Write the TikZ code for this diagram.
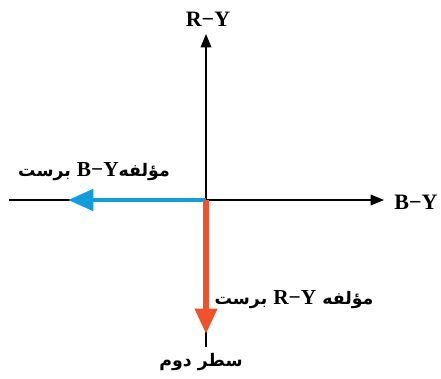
\documentclass[tikz,border=0pt]{standalone}
\usepackage{fontspec}
\setmainfont{Liberation Serif}
\newfontfamily\arabicfont[Script=Arabic]{DejaVu Sans}
\newfontfamily\latinfont{Liberation Serif}
\TeXXeTstate=1
\usetikzlibrary{arrows.meta}
\newcommand{\lat}[1]{{\latinfont\fontsize{16}{18}\selectfont\bfseries #1}}
\begin{document}
\begin{tikzpicture}[x=0.75pt, y=-0.75pt,
        axis/.style={draw=black, line width=1pt},
        axtip/.style={-{Triangle[length=10pt, width=8pt]}},
        comp/.style={-{Triangle[length=19pt, width=16pt]}},
        alab/.style={font=\fontsize{16.5}{18}\selectfont\bfseries, inner sep=0pt},
        flab/.style={font=\fontsize{13}{15}\selectfont\arabicfont\bfseries, inner sep=0pt},
      ]
      \definecolor{bluec}{HTML}{139CDB}
      \definecolor{redc}{HTML}{F0522A}
      \path[use as bounding box] (0,0) rectangle (441,378);
      \coordinate (o) at (206,200);
      \coordinate (left) at (9,200);
      \coordinate (right) at (384,200);
      \coordinate (top) at (206,34);
      \coordinate (bottom) at (206,347);
      \coordinate (btip) at (68,200);
      \coordinate (rtip) at (206,334);
      \node[alab] (ry) at (208,19) {R−Y};
      \node[alab] (by) at (416,202) {B−Y};
      \node[flab] (bcomp) at (94,172) {\beginR مؤلفه\beginL\lat{B−Y}\endL{} برست\endR};
      \node[flab] (rcomp) at (294,300) {\beginR مؤلفه \beginL\lat{R−Y}\endL{} برست\endR};
      \node[flab] (line2) at (201,362) {\beginR سطر دوم\endR};
      \draw[axis] (left) -- (o);
      \draw[axis, axtip] (o) -- (right);
      \draw[axis, axtip] (bottom) -- (top);
      \draw[comp, bluec, line width=3pt] (o) -- (btip);
      \draw[comp, redc, line width=4.2pt] (o) -- (rtip);
    \end{tikzpicture}
\end{document}
